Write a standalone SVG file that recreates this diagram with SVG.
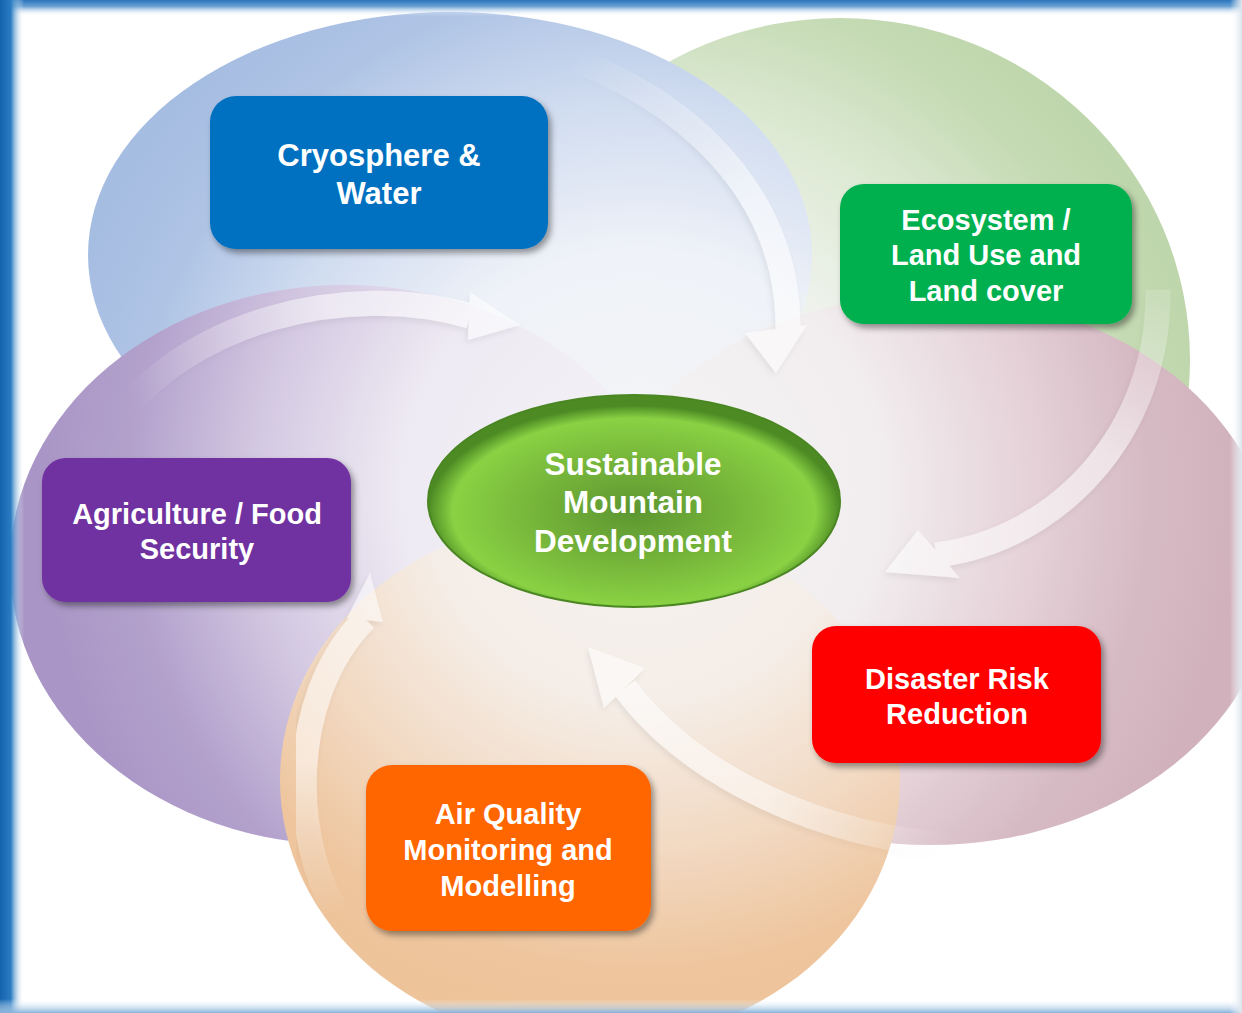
<svg xmlns="http://www.w3.org/2000/svg" width="1242" height="1013" viewBox="0 0 1242 1013">
<defs>
<style>
.lbl{font-family:"Liberation Sans",Arial,sans-serif;font-weight:bold;fill:#ffffff;text-anchor:middle}
.arr path{fill:none;stroke-width:25;stroke-linecap:butt}
.arr polygon{fill:#ffffff}
</style>
<linearGradient id="fl" x1="0" y1="0" x2="1" y2="0"><stop offset="0" stop-color="#1463ad"/><stop offset="0.45" stop-color="#2a7cc2"/><stop offset="1" stop-color="#ffffff" stop-opacity="0"/></linearGradient>
<linearGradient id="ft" x1="0" y1="0" x2="0" y2="1"><stop offset="0" stop-color="#2a74bc"/><stop offset="0.4" stop-color="#6aa2d4"/><stop offset="1" stop-color="#ffffff" stop-opacity="0"/></linearGradient>
<linearGradient id="fb" x1="0" y1="0" x2="0" y2="1"><stop offset="0" stop-color="#ffffff" stop-opacity="0"/><stop offset="1" stop-color="#86b2da"/></linearGradient>
<linearGradient id="fr" x1="0" y1="0" x2="1" y2="0"><stop offset="0" stop-color="#ffffff" stop-opacity="0"/><stop offset="1" stop-color="#dbe5ee"/></linearGradient>
<radialGradient id="gB" gradientUnits="userSpaceOnUse" cx="640" cy="490" r="600"><stop offset="0" stop-color="#f4f4f6"/><stop offset="0.4" stop-color="#eff2f8"/><stop offset="0.65" stop-color="#d0dcf0"/><stop offset="0.85" stop-color="#afc4e5"/><stop offset="1" stop-color="#a6bde2"/></radialGradient>
<radialGradient id="gG" gradientUnits="userSpaceOnUse" cx="640" cy="490" r="600"><stop offset="0" stop-color="#f4f4f4"/><stop offset="0.4" stop-color="#f0f3ee"/><stop offset="0.65" stop-color="#dce9d2"/><stop offset="0.85" stop-color="#c4dab3"/><stop offset="1" stop-color="#bdd5aa"/></radialGradient>
<radialGradient id="gP" gradientUnits="userSpaceOnUse" cx="640" cy="490" r="600"><stop offset="0" stop-color="#f4f3f4"/><stop offset="0.4" stop-color="#f2eeef"/><stop offset="0.65" stop-color="#e5d2d8"/><stop offset="0.85" stop-color="#d6bac3"/><stop offset="1" stop-color="#d1b2bc"/></radialGradient>
<radialGradient id="gV" gradientUnits="userSpaceOnUse" cx="640" cy="490" r="600"><stop offset="0" stop-color="#f4f3f6"/><stop offset="0.4" stop-color="#eeeaf3"/><stop offset="0.65" stop-color="#d2c7e1"/><stop offset="0.85" stop-color="#b3a1cc"/><stop offset="1" stop-color="#aa96c6"/></radialGradient>
<radialGradient id="gO" gradientUnits="userSpaceOnUse" cx="640" cy="490" r="600"><stop offset="0" stop-color="#f5f2f1"/><stop offset="0.35" stop-color="#f5eee8"/><stop offset="0.6" stop-color="#f2d9c2"/><stop offset="0.8" stop-color="#eec59d"/><stop offset="1" stop-color="#edc297"/></radialGradient>
<radialGradient id="cg" cx="0.5" cy="0.55" r="0.5"><stop offset="0" stop-color="#5c9631"/><stop offset="0.55" stop-color="#79b93b"/><stop offset="0.88" stop-color="#8ad244"/><stop offset="1" stop-color="#4d8a24"/></radialGradient>
<linearGradient id="a1" gradientUnits="userSpaceOnUse" x1="580" y1="50" x2="760" y2="200"><stop offset="0" stop-color="#ffffff" stop-opacity="0"/><stop offset="1" stop-color="#ffffff"/></linearGradient>
<linearGradient id="a2" gradientUnits="userSpaceOnUse" x1="1150" y1="300" x2="1120" y2="460"><stop offset="0" stop-color="#ffffff" stop-opacity="0.3"/><stop offset="1" stop-color="#ffffff"/></linearGradient>
<linearGradient id="a3" gradientUnits="userSpaceOnUse" x1="950" y1="846" x2="760" y2="810"><stop offset="0" stop-color="#ffffff" stop-opacity="0"/><stop offset="1" stop-color="#ffffff"/></linearGradient>
<linearGradient id="a4" gradientUnits="userSpaceOnUse" x1="330" y1="915" x2="300" y2="760"><stop offset="0" stop-color="#ffffff" stop-opacity="0"/><stop offset="1" stop-color="#ffffff"/></linearGradient>
<linearGradient id="a5" gradientUnits="userSpaceOnUse" x1="130" y1="400" x2="330" y2="300"><stop offset="0" stop-color="#ffffff" stop-opacity="0"/><stop offset="1" stop-color="#ffffff"/></linearGradient>
<filter id="sh" x="-10%" y="-10%" width="125%" height="130%"><feDropShadow dx="3" dy="4" stdDeviation="3" flood-color="#000000" flood-opacity="0.4"/></filter>
<filter id="ash" x="-10%" y="-10%" width="130%" height="130%"><feDropShadow dx="-2" dy="3" stdDeviation="3" flood-color="#000000" flood-opacity="0.12"/></filter>
</defs>
<g id="background">
<rect x="0" y="0" width="1242" height="1013" fill="#ffffff"/>
<ellipse cx="840" cy="360" rx="350" ry="342" fill="url(#gG)"/>
<ellipse cx="450" cy="255" rx="362" ry="243" fill="url(#gB)"/>
<ellipse cx="930" cy="570" rx="345" ry="275" fill="url(#gP)"/>
<ellipse cx="345" cy="565" rx="335" ry="280" fill="url(#gV)"/>
<ellipse cx="590" cy="780" rx="310" ry="265" fill="url(#gO)"/>
<rect x="0" y="0" width="1242" height="16" fill="url(#ft)"/>
<rect x="0" y="0" width="24" height="1013" fill="url(#fl)"/>
<rect x="0" y="999" width="1242" height="14" fill="url(#fb)"/>
<rect x="1230" y="0" width="12" height="1013" fill="url(#fr)"/>
</g>
<g id="connectors">
<g class="arr" opacity="0.55" filter="url(#ash)">
<path d="M 560 55 C 680 95 790 190 788 331" stroke="url(#a1)"/>
<polygon points="745,333 807,325 776,373"/>
</g>
<g class="arr" opacity="0.55" filter="url(#ash)">
<path d="M 1158 290 C 1160 430 1060 540 936 555" stroke="url(#a2)"/>
<polygon points="918,530 960,578 885,572"/>
</g>
<g class="arr" opacity="0.55" filter="url(#ash)">
<path d="M 960 846 C 820 838 690 775 625 688" stroke="url(#a3)"/>
<polygon points="645,668 604,708 588,647"/>
</g>
<g class="arr" opacity="0.55" filter="url(#ash)">
<path d="M 345 925 C 290 850 285 700 365 619" stroke="url(#a4)"/>
<polygon points="347,618 383,622 370,573"/>
</g>
<g class="arr" opacity="0.55" filter="url(#ash)">
<path d="M 110 430 C 180 320 350 280 470 316" stroke="url(#a5)"/>
<polygon points="470,292 468,340 520,325"/>
</g>
</g>
<g id="node-cryosphere">
<rect x="210" y="96" width="338" height="153" rx="26" fill="#0070c0" filter="url(#sh)"/>
<text class="lbl" font-size="31" x="379" y="166">Cryosphere &amp;</text>
<text class="lbl" font-size="31" x="379" y="204">Water</text>
</g>
<g id="node-ecosystem">
<rect x="840" y="184" width="292" height="140" rx="24" fill="#00b050" filter="url(#sh)"/>
<text class="lbl" font-size="29" x="986" y="230">Ecosystem /</text>
<text class="lbl" font-size="29" x="986" y="265">Land Use and</text>
<text class="lbl" font-size="29" x="986" y="301">Land cover</text>
</g>
<g id="node-agriculture">
<rect x="42" y="458" width="309" height="144" rx="24" fill="#7030a0" filter="url(#sh)"/>
<text class="lbl" font-size="29" x="197" y="524">Agriculture / Food</text>
<text class="lbl" font-size="29" x="197" y="559">Security</text>
</g>
<g id="node-disaster">
<rect x="812" y="626" width="289" height="137" rx="24" fill="#ff0000" filter="url(#sh)"/>
<text class="lbl" font-size="29" x="957" y="689">Disaster Risk</text>
<text class="lbl" font-size="29" x="957" y="724">Reduction</text>
</g>
<g id="node-airquality">
<rect x="366" y="765" width="285" height="166" rx="26" fill="#ff6600" filter="url(#sh)"/>
<text class="lbl" font-size="29" x="508" y="824">Air Quality</text>
<text class="lbl" font-size="29" x="508" y="860">Monitoring and</text>
<text class="lbl" font-size="29" x="508" y="896">Modelling</text>
</g>
<g id="node-center">
<ellipse cx="634" cy="501" rx="206" ry="106" fill="url(#cg)" stroke="#4a8622" stroke-width="2"/>
<text class="lbl" font-size="31.5" x="633" y="475">Sustainable</text>
<text class="lbl" font-size="31.5" x="633" y="513">Mountain</text>
<text class="lbl" font-size="31.5" x="633" y="552">Development</text>
</g>
</svg>
